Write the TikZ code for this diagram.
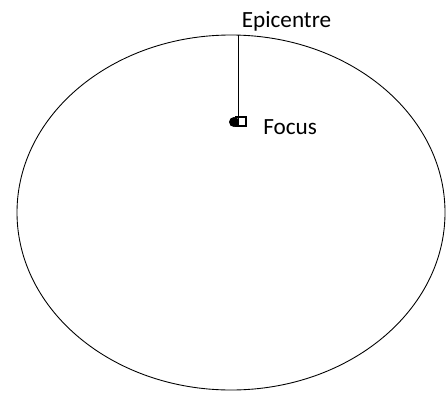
\documentclass[tikz,border=0pt]{standalone}
\usepackage{fontspec}
\setmainfont{Carlito}
\usepackage{tikz}

\begin{document}
\begin{tikzpicture}[x=0.02cm,y=-0.02cm,font=\fontsize{13.2}{15}\selectfont]
    \useasboundingbox (0,0) rectangle (448,392);

    % Earth outline.
    \draw[line width=0.5pt] (231,212.5) ellipse [x radius=214, y radius=177.5];

    % Epicentre on the surface, focus below it.
    \coordinate (epi) at (238.5,35);
    \node[circle,fill=black,inner sep=0pt,minimum size=0.2cm] (focus) at (234,122) {};
    \draw[line width=0.6pt] ([shift={(2,-5)}]focus.center) rectangle ++(10,9);
    \draw[line width=0.8pt] (epi) -- (epi |- focus.south);

    % Labels.
    \node[anchor=base west,inner sep=0pt] (epilabel) at (241.5,27) {Epicentre};
    \node[anchor=base west,inner sep=0pt] (focuslabel) at (263,134) {Focus};
\end{tikzpicture}
\end{document}
